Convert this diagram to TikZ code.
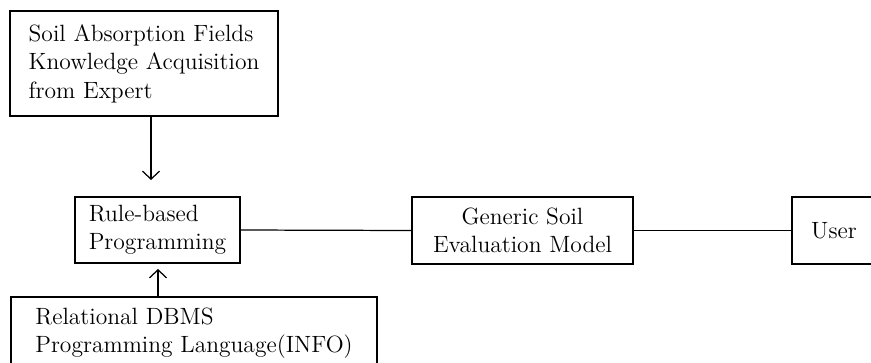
\documentclass[tikz,border=0pt]{standalone}
\usetikzlibrary{arrows.meta}

\tikzset{
    box/.style={draw, line width=0.7pt, align=left, inner sep=0pt,
        font=\fontsize{13.4}{16.2}\selectfont},
    link/.style={line width=0.7pt},
    arrow/.style={link, -{Straight Barb[length=1.6mm,width=3.4mm]}}
}

\begin{document}
\begin{tikzpicture}[x=0.02cm, y=-0.02cm]
    % Frame
    \useasboundingbox (0,0) rectangle (871,362);
    \clip (0,0) rectangle (871,362);

    % Boxes
    \node[box, minimum width=5.36cm, minimum height=2.1cm] (expert) at (144,63.5)
        {Soil Absorption Fields\\Knowledge Acquisition\\from Expert};
    \node[box, minimum width=3.3cm, minimum height=1.32cm] (rule) at (157.5,230)
        {Rule-based\\Programming};
    \node[box, minimum width=7.32cm, minimum height=1.44cm] (dbms) at (194,333)
        {Relational DBMS\\Programming Language(INFO)};
    \node[box, align=center, minimum width=4.42cm, minimum height=1.34cm] (generic) at (522.5,230.5)
        {Generic Soil\\Evaluation Model};
    \node[box, align=center, minimum width=1.68cm, minimum height=1.34cm] (user) at (834,230.5)
        {User};

    % Arrow ends
    \coordinate (expTip) at (151,180);
    \coordinate (dbmsTip) at (158,269);

    % Connectors
    \draw[arrow] (expert.south -| expTip) -- (expTip);
    \draw[arrow] (dbms.north -| dbmsTip) -- (dbmsTip);
    \draw[link] (rule.east) -- (generic.west);
    \draw[link] (generic.east) -- (user.west);
\end{tikzpicture}
\end{document}
